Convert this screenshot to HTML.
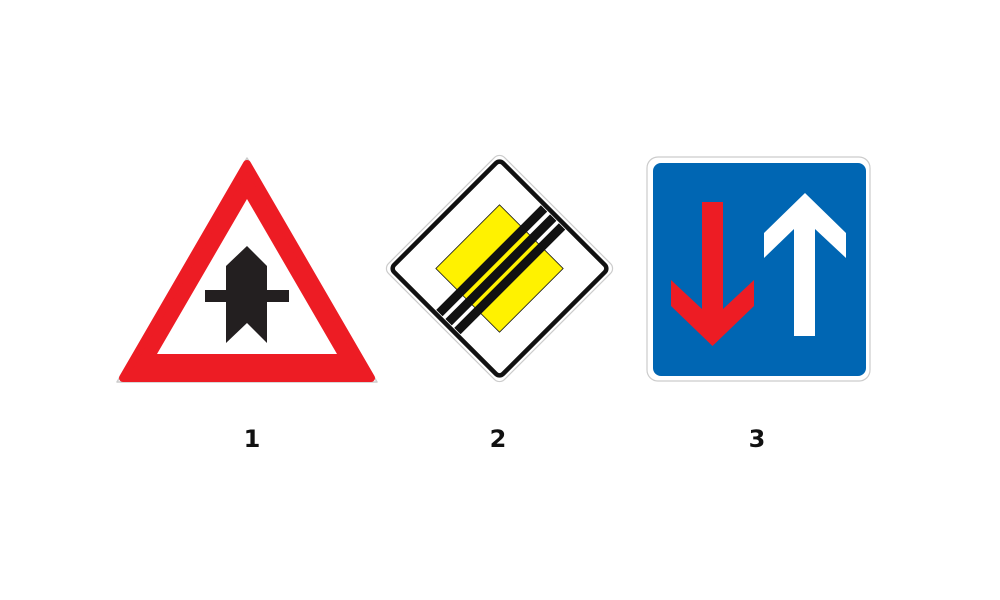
<!DOCTYPE html>
<html><head><meta charset="utf-8"><style>
html,body{margin:0;padding:0;background:#fff;width:1000px;height:600px;overflow:hidden}
svg{display:block}
text{font-family:"DejaVu Sans","Liberation Sans",sans-serif;font-weight:bold;font-size:24px;fill:#111}
</style></head><body>
<svg width="1000" height="600" viewBox="0 0 1000 600">
 <g>
  <polygon points="247,158 377,382 117,382" fill="#fff" stroke="#ccc" stroke-width="1.5" stroke-linejoin="round"/>
  <polygon points="247,164 371,378 123,378" fill="#ed1c24" stroke="#ed1c24" stroke-width="8" stroke-linejoin="round"/>
  <polygon points="247,199 337,354 157,354" fill="#fff"/>
  <polygon points="205,290 226,290 226,266 247,246 267,266 267,290 289,290 289,302 267,302 267,343 247,323 226,343 226,302 205,302" fill="#231f20"/>
 </g>
 <g transform="translate(499.5,268.5) rotate(45)">
  <rect x="-82" y="-82" width="164" height="164" rx="7" fill="#fff" stroke="#ccc" stroke-width="1.2"/>
  <rect x="-77" y="-77" width="154" height="154" rx="5" fill="#fff" stroke="#111" stroke-width="4.5"/>
  <rect x="-45" y="-45" width="90" height="90" fill="#fff200" stroke="#111" stroke-width="0.8"/>
  <rect x="-15.5" y="-74" width="9" height="148" fill="#111"/>
  <rect x="-2.5" y="-74" width="9" height="148" fill="#111"/>
  <rect x="10" y="-74" width="9" height="148" fill="#111"/>
 </g>
 <g>
  <rect x="647" y="157" width="223" height="224" rx="11" fill="#fff" stroke="#ccc" stroke-width="1.2"/>
  <rect x="653" y="163" width="213" height="213" rx="8" fill="#0066b3"/>
  <polygon points="702,202 723,202 723,309 754,280 754,306 712.5,346 671,306 671,280 702,309" fill="#ed1c24"/>
  <polygon points="805,193 846,233 846,258 815,229 815,336 794,336 794,229 764,258 764,233" fill="#fff"/>
 </g>
 <text x="252" y="447" text-anchor="middle">1</text>
 <text x="498" y="447" text-anchor="middle">2</text>
 <text x="757" y="447" text-anchor="middle">3</text>
</svg>
</body></html>
